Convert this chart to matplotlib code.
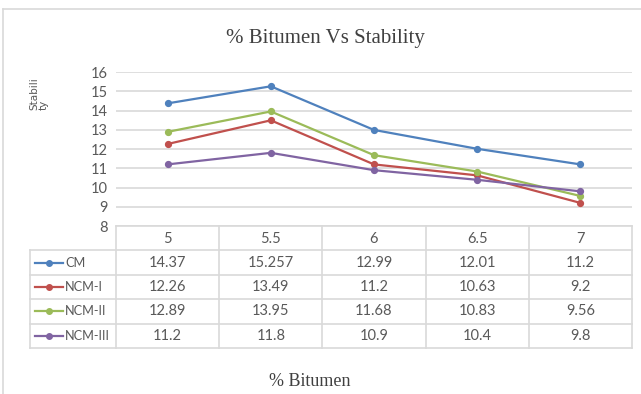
import matplotlib
matplotlib.use("Agg")
import matplotlib.pyplot as plt
from matplotlib.lines import Line2D

# bitumen content (%) and Marshall stability of each mix
bitumen = ["5", "5.5", "6", "6.5", "7"]
series_names = ["CM", "NCM-I", "NCM-II", "NCM-III"]
cm = [14.37, 15.257, 12.99, 12.01, 11.2]
ncm_1 = [12.26, 13.49, 11.2, 10.63, 9.2]
ncm_2 = [12.89, 13.95, 11.68, 10.83, 9.56]
ncm_3 = [11.2, 11.8, 10.9, 10.4, 9.8]
colors = ["#4F81BD", "#C0504D", "#9BBB59", "#8064A2"]
y_ticks = [8, 9, 10, 11, 12, 13, 14, 15, 16]

W, H = 641, 394
GRID = "#D9D9D9"
TXT = "#595959"
SANS = ["Lato", "DejaVu Sans"]
SERIF = ["Liberation Serif", "DejaVu Serif"]
NARROW = ["Liberation Sans Narrow", "DejaVu Sans"]


def box(x0, y0, x1, y1):
    """pixel box (top-left origin) -> figure fraction rect"""
    return [x0 / W, 1 - y1 / H, (x1 - x0) / W, (y1 - y0) / H]


fig = plt.figure(figsize=(W / 100, H / 100), dpi=100)

# outer chart frame (top and left edges show)
fig.add_artist(Line2D([3 / W, 3 / W], [0, 1 - 9 / H], color=GRID, lw=1.2))
fig.add_artist(Line2D([3 / W, 1], [1 - 9 / H, 1 - 9 / H], color=GRID, lw=1.2))

fig.text(325 / W, 1 - 38 / H, "% Bitumen Vs Stability", ha="center",
         va="center", fontsize=15, color="#404040", family=SERIF)
fig.text(310 / W, 1 - 381 / H, "% Bitumen", ha="center", va="center",
         fontsize=13, color="#404040", family=SERIF)
fig.text(39 / W, 1 - 110 / H, "Stabili\nty", rotation=90, ha="center",
         va="bottom", fontsize=7.5, color=TXT, family=NARROW,
         linespacing=1.0, multialignment="left")

# line plot
ax = fig.add_axes(box(116, 72, 632, 226))
x = range(len(bitumen))
for vals, c in zip([cm, ncm_1, ncm_2, ncm_3], colors):
    ax.plot(x, vals, color=c, lw=1.6, marker="o", ms=4.2, clip_on=False, zorder=3)
ax.set_xlim(-0.5, len(bitumen) - 0.5)
ax.set_ylim(y_ticks[0], y_ticks[-1])
ax.set_yticks(y_ticks)
ax.set_yticklabels([str(t) for t in y_ticks], family=SANS, fontsize=10.5, color=TXT)
ax.tick_params(axis="y", length=0, pad=6)
ax.set_xticks([])
ax.grid(axis="y", color=GRID, lw=1.2)
ax.set_axisbelow(True)
for s in ax.spines.values():
    s.set_visible(False)

# data table below the plot
tab = fig.add_axes(box(30, 226, 632, 348))
left = -0.5 - (116 - 30) / ((632 - 116) / len(bitumen))
n = len(bitumen)
tab.set_xlim(left, n - 0.5)
tab.set_ylim(len(series_names) + 1, 0)
tab.axis("off")

lk = dict(color=GRID, lw=1.2, clip_on=False)
for r in range(len(series_names) + 2):
    x0 = -0.5 if r == 0 else left
    tab.plot([x0, n - 0.5], [r, r], **lk)
tab.plot([left, left], [1, len(series_names) + 1], **lk)
for i in range(n + 1):
    tab.plot([i - 0.5, i - 0.5], [0, len(series_names) + 1], **lk)

tk = dict(ha="center", va="center", fontsize=10.5, color=TXT, family=SANS)
for i, b in enumerate(bitumen):
    tab.text(i, 0.55, b, **tk)
for r, (name, vals, c) in enumerate(zip(series_names, [cm, ncm_1, ncm_2, ncm_3], colors), start=1):
    tab.plot([left + 0.05, left + 0.32], [r + 0.5, r + 0.5], color=c, lw=1.6, clip_on=False)
    tab.plot([left + 0.185], [r + 0.5], "o", color=c, ms=4, clip_on=False)
    tab.text(left + 0.34, r + 0.5, name, ha="left", va="center", fontsize=9.2,
             color=TXT, family=SANS)
    for i, v in enumerate(vals):
        tab.text(i, r + 0.5, f"{v:g}", **tk)

fig.savefig("out.png", dpi=100)
